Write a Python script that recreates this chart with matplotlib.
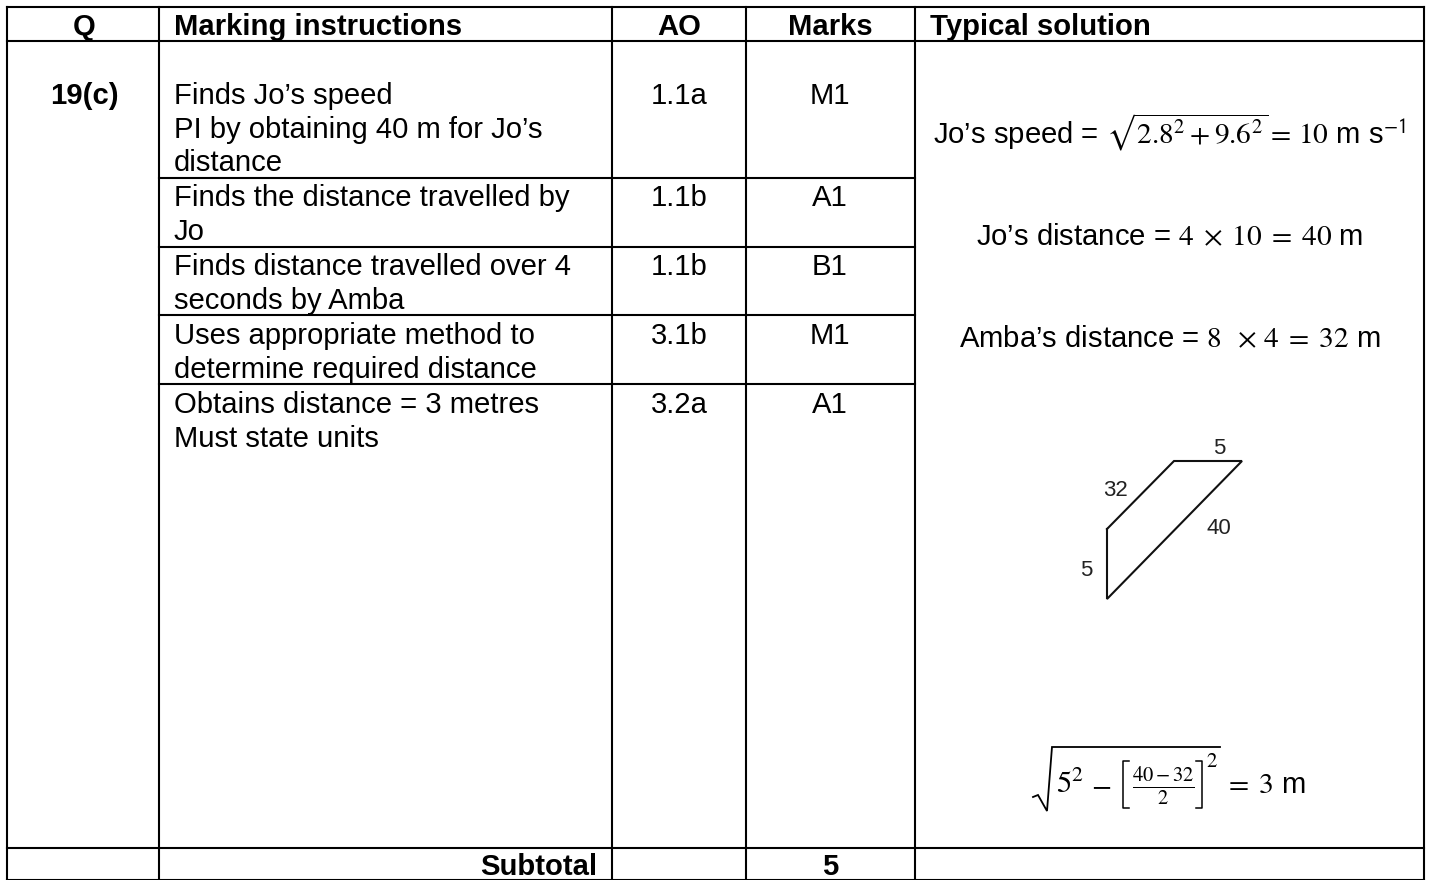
import matplotlib
matplotlib.use('Agg')
import matplotlib.pyplot as plt

plt.rcParams['font.family'] = ['Liberation Sans', 'DejaVu Sans']
plt.rcParams['mathtext.fontset'] = 'stix'

# table grid (pixels)
col_edges = [7, 159, 612, 746, 915, 1424]
row_edges = [7, 41, 178, 247, 315, 384, 848, 880]

headers = ['Q', 'Marking instructions', 'AO', 'Marks', 'Typical solution']
question = '19(c)'

instructions = [
    "Finds Jo’s speed",
    "PI by obtaining 40 m for Jo’s",
    "distance",
    "Finds the distance travelled by",
    "Jo",
    "Finds distance travelled over 4",
    "seconds by Amba",
    "Uses appropriate method to",
    "determine required distance",
    "Obtains distance = 3 metres",
    "Must state units",
]
instruction_y = [104, 138, 171, 206, 240, 275, 309, 344, 378, 413, 447]

ao_codes = ['1.1a', '1.1b', '1.1b', '3.1b', '3.2a']
mark_codes = ['M1', 'A1', 'B1', 'M1', 'A1']
code_y = [104, 206, 275, 344, 413]

subtotal_label = 'Subtotal'
subtotal_marks = '5'

solutions = [
    r"Jo’s speed = $\sqrt{2.8^2+9.6^2}=\,10$ m s$^{\mathsf{-1}}$",
    r"Jo’s distance = $4\;\times\;10\;=\;40$ m",
    r"Amba’s distance = $8\;\;\times\,4\;=\;32$ m",
]
solution_y = [143, 245, 347]

# trapezium sketch
shape_x = [1107, 1174, 1242, 1107, 1107]
shape_y = [529, 461, 461, 599, 529]
shape_labels = ['5', '32', '40', '5']
shape_label_x = [1219, 1115, 1219, 1086]
shape_label_y = [454.5, 495.5, 534.5, 575.5]

fig = plt.figure(figsize=(14.31, 8.8), dpi=100)
ax = fig.add_axes([0, 0, 1, 1])
ax.set_xlim(0, 1431)
ax.set_ylim(880, 0)
ax.axis('off')

black = '#000000'
lw = 1.5

# vertical rules
for x in col_edges:
    ax.plot([x, x], [row_edges[0], row_edges[-1]], color=black, lw=lw, solid_capstyle='projecting')

# horizontal rules: the inner ones only span the middle columns
for y in row_edges[:2] + row_edges[-2:]:
    ax.plot([col_edges[0], col_edges[-1]], [y, y], color=black, lw=lw, solid_capstyle='projecting')
for y in row_edges[2:-2]:
    ax.plot([col_edges[1], col_edges[4]], [y, y], color=black, lw=lw, solid_capstyle='projecting')

fs = 21.1

# header row
header_x = [84, 174, 679, 830, 930]
header_ha = ['center', 'left', 'center', 'center', 'left']
for x, ha, s in zip(header_x, header_ha, headers):
    ax.text(x, 35, s, ha=ha, va='baseline', fontsize=fs, fontweight='bold')

ax.text(84, 104, question, ha='center', va='baseline', fontsize=fs, fontweight='bold')

for y, s in zip(instruction_y, instructions):
    ax.text(174, y, s, ha='left', va='baseline', fontsize=fs)

for y, a, m in zip(code_y, ao_codes, mark_codes):
    ax.text(679, y, a, ha='center', va='baseline', fontsize=fs)
    ax.text(830, y, m, ha='center', va='baseline', fontsize=fs)

ax.text(597, 875, subtotal_label, ha='right', va='baseline', fontsize=fs, fontweight='bold')
ax.text(830, 875, subtotal_marks, ha='center', va='baseline', fontsize=fs, fontweight='bold')

for y, s in zip(solution_y, solutions):
    ax.text(1169.5, y, s, ha='center', va='baseline', fontsize=fs)

ax.plot(shape_x, shape_y, color='#111111', lw=1.5, solid_joinstyle='miter')
for x, y, s in zip(shape_label_x, shape_label_y, shape_labels):
    ax.text(x, y, s, ha='center', va='baseline', fontsize=16, color='#222222')

# last line of the solution, built up by hand because mathtext makes the root too short
ax.plot([1033, 1038, 1047, 1052, 1220], [797, 795, 811, 747, 747], color=black, lw=1.3, solid_joinstyle='miter')
ax.plot([1129, 1123, 1123, 1129], [761, 761, 808, 808], color=black, lw=1.1)
ax.plot([1196, 1202, 1202, 1196], [761, 761, 808, 808], color=black, lw=1.1)
ax.text(1056, 793, r'$5^2$', ha='left', va='baseline', fontsize=fs + 1)
ax.text(1101, 793, r'$-$', ha='center', va='baseline', fontsize=fs)
ax.text(1163, 793, r'$\frac{40-32}{2}$', ha='center', va='baseline', fontsize=fs)
ax.text(1212, 767, r'$2$', ha='center', va='baseline', fontsize=15)
ax.text(1305, 793, r'$=\;3$ m', ha='right', va='baseline', fontsize=fs)

fig.savefig('out.png', dpi=100)
